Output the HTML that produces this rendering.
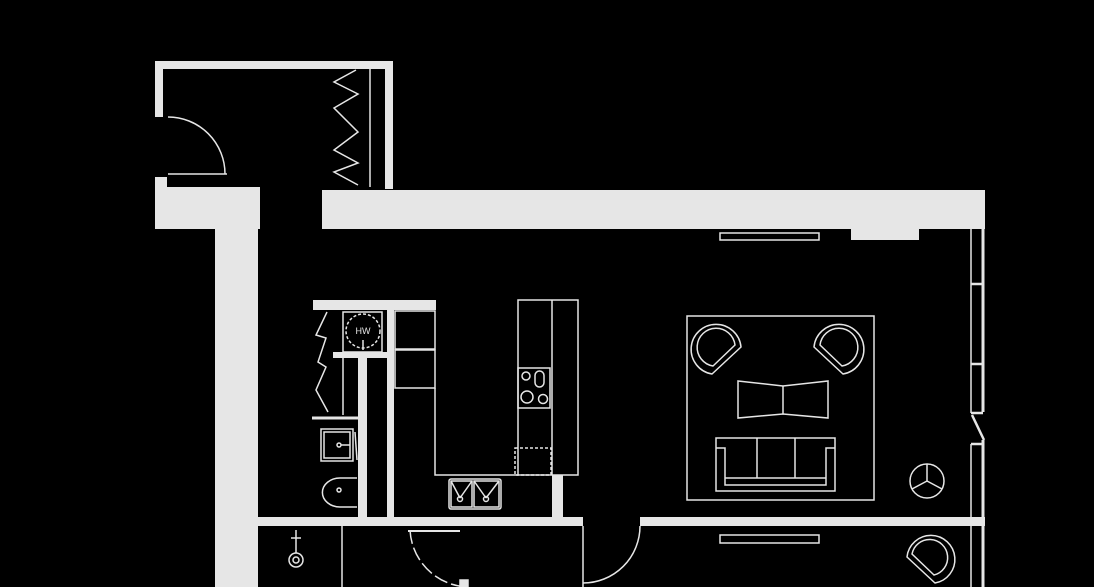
<!DOCTYPE html>
<html><head><style>
html,body{margin:0;padding:0;background:#000;}
svg{display:block;}
text{font-family:"Liberation Sans",sans-serif;}
</style></head><body>
<svg width="1094" height="587" viewBox="0 0 1094 587" xmlns="http://www.w3.org/2000/svg">
<rect width="1094" height="587" fill="#000"/>
<g fill="#e6e6e6">
  <rect x="155" y="61" width="238" height="8"/>
  <rect x="155" y="61" width="8" height="56"/>
  <rect x="155" y="177" width="12" height="12"/>
  <rect x="385" y="61" width="8" height="128"/>
  <rect x="155" y="187" width="105" height="42"/>
  <rect x="215" y="187" width="43" height="400"/>
  <rect x="322" y="190" width="663" height="39"/>
  <rect x="851" y="228" width="68" height="12"/>
  <rect x="313" y="300" width="123" height="10"/>
  <rect x="387" y="310" width="7" height="210"/>
  <rect x="358" y="355" width="9" height="165"/>
  <rect x="333" y="352" width="60" height="6"/>
  <rect x="552" y="475" width="11" height="45"/>
  <rect x="258" y="517" width="325" height="9"/>
  <rect x="640" y="517" width="345" height="9"/>
</g>
<g fill="none" stroke="#e6e6e6" stroke-width="1.5">
  <line x1="168" y1="174" x2="227" y2="174"/>
  <path d="M168 117 A57 57 0 0 1 225 174"/>
  <line x1="370" y1="68" x2="370" y2="187"/>
  <polyline points="356,70 334,82 358,94 334,108 358,132 334,150 358,163 334,172 358,185"/>
  <line x1="971" y1="229" x2="971" y2="413"/>
  <line x1="971" y1="444" x2="971" y2="587"/>
  <line x1="983" y1="229" x2="983" y2="412" stroke-width="3"/>
  <line x1="983" y1="440" x2="983" y2="587" stroke-width="3"/>
  <line x1="971" y1="284" x2="983" y2="284" stroke-width="2.5"/>
  <line x1="971" y1="364" x2="983" y2="364" stroke-width="2.5"/>
  <line x1="971" y1="413" x2="983" y2="413" stroke-width="2.5"/>
  <line x1="971" y1="444" x2="983" y2="444" stroke-width="2.5"/>
  <line x1="972" y1="415" x2="984" y2="440" stroke-width="2.5"/>
  <rect x="720" y="233" width="99" height="7"/>
  <rect x="720" y="535" width="99" height="8"/>
  <rect x="343" y="312" width="39" height="40"/>
  <circle cx="363" cy="331" r="17" stroke-dasharray="3 2"/>
  <line x1="363" y1="340" x2="363" y2="350"/>
  <line x1="343" y1="352" x2="343" y2="415"/>
  <polyline points="327,312 316,335 326,338 318,362 326,367 316,390 328,412"/>
  <line x1="312" y1="418" x2="362" y2="418" stroke-width="3"/>
  <rect x="321" y="429" width="32" height="32"/>
  <rect x="324" y="432" width="26" height="26"/>
  <circle cx="339" cy="445" r="2"/>
  <line x1="341" y1="445" x2="350" y2="445"/>
  <line x1="355" y1="432" x2="357" y2="460"/>
  <path d="M357 478 L340 478 A17 14 0 0 0 340 507 L357 507"/>
  <circle cx="339" cy="490" r="2"/>
  <rect x="395" y="311" width="40" height="38"/>
  <rect x="395" y="350" width="40" height="38"/>
  <polyline points="435,388 435,475 518,475"/>
  <rect x="449" y="479" width="52" height="30" rx="2"/>
  <rect x="451" y="481" width="21" height="26"/>
  <rect x="474" y="481" width="25" height="26"/>
  <line x1="451" y1="481" x2="460" y2="498"/>
  <line x1="472" y1="481" x2="460" y2="498"/>
  <line x1="474" y1="481" x2="486" y2="498"/>
  <line x1="499" y1="481" x2="486" y2="498"/>
  <circle cx="460" cy="499" r="2.5"/>
  <circle cx="486" cy="499" r="2.5"/>
  <rect x="518" y="300" width="60" height="175"/>
  <line x1="552" y1="300" x2="552" y2="475"/>
  <rect x="518" y="368" width="32" height="40"/>
  <circle cx="526" cy="376" r="4"/>
  <rect x="535" y="371" width="9" height="16" rx="4.5"/>
  <circle cx="527" cy="397" r="6"/>
  <circle cx="543" cy="399" r="4.5"/>
  <rect x="515" y="448" width="36" height="27" stroke-dasharray="3 2"/>
  <line x1="342" y1="526" x2="342" y2="587"/>
  <circle cx="296" cy="560" r="7"/>
  <circle cx="296" cy="560" r="3"/>
  <line x1="296" y1="553" x2="296" y2="530"/>
  <line x1="291" y1="538" x2="301" y2="538"/>
  <line x1="408" y1="531" x2="460" y2="531" stroke-width="2"/>
  <path d="M410 530 A60 60 0 0 0 468 587" stroke-dasharray="14 4"/>
  <rect x="460" y="580" width="8" height="7" fill="#e6e6e6"/>
  <line x1="583" y1="526" x2="583" y2="587"/>
  <path d="M640 526 A57 57 0 0 1 583 583"/>
  <rect x="687" y="316" width="187" height="184"/>
  <path d="M738 381 L783 386 L828 381 L828 418 L783 414 L738 418 Z"/>
  <line x1="783" y1="386" x2="783" y2="414"/>
  <rect x="716" y="438" width="119" height="53"/>
  <line x1="757" y1="438" x2="757" y2="478"/>
  <line x1="795" y1="438" x2="795" y2="478"/>
  <polyline points="716,448 725,448 725,485 826,485 826,448 835,448"/>
  <line x1="725" y1="478" x2="826" y2="478"/>
  <path d="M712 374 L741 347 A25 25 0 1 0 712 374 Z"/>
  <path d="M713 366 L735 345 A19 19 0 1 0 713 366 Z"/>
  <path d="M843 374 L814 347 A25 25 0 1 1 843 374 Z"/>
  <path d="M842 366 L820 345 A19 19 0 1 1 842 366 Z"/>
  <path d="M935 583 L907 557 A24 24 0 1 1 935 583 Z"/>
  <path d="M934 575 L912 554 A18 18 0 1 1 934 575 Z"/>
  <circle cx="927" cy="481" r="17"/>
  <line x1="927" y1="481" x2="927" y2="464"/>
  <line x1="927" y1="481" x2="912" y2="489"/>
  <line x1="927" y1="481" x2="942" y2="489"/>
</g>
<text x="363" y="334" font-size="9" fill="#e6e6e6" text-anchor="middle">HW</text>
</svg>
</body></html>
